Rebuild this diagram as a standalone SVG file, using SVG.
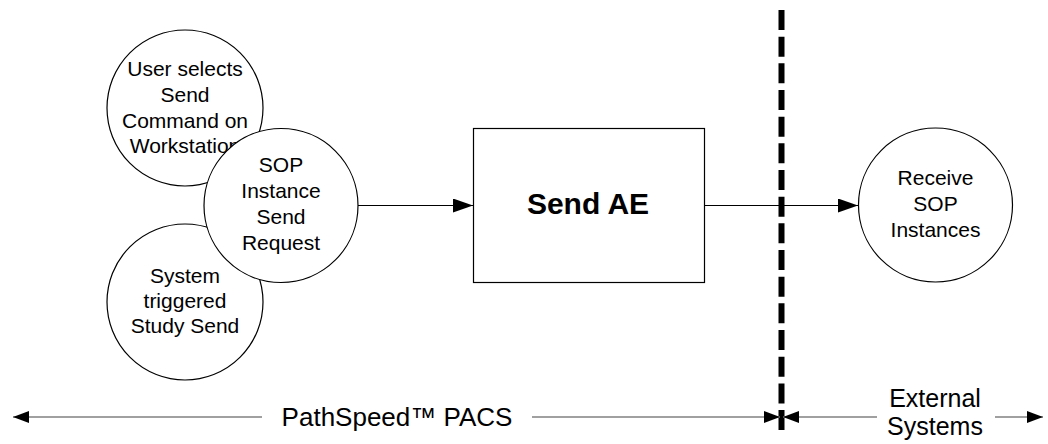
<svg xmlns="http://www.w3.org/2000/svg" width="1048" height="444" viewBox="0 0 1048 444">
<style>
.node{fill:#fff;stroke:#000;stroke-width:1.2}
.t{font-family:"Liberation Sans",Arial,sans-serif;font-size:21px;fill:#000;text-anchor:middle}
.tb{font-family:"Liberation Sans",Arial,sans-serif;font-size:30px;font-weight:bold;fill:#000;text-anchor:middle}
.tl{font-family:"Liberation Sans",Arial,sans-serif;font-size:26px;fill:#000;text-anchor:middle}
.te{font-family:"Liberation Sans",Arial,sans-serif;font-size:25px;fill:#000;text-anchor:middle}
.conn{stroke:#000;stroke-width:1.2;fill:none}
.span{stroke:#808080;stroke-width:1.5;fill:none}
</style>
<defs>
<marker id="ah" markerUnits="userSpaceOnUse" markerWidth="20" markerHeight="14" refX="20" refY="7" orient="auto">
<path d="M0,0 L20,7 L0,14 Z" fill="#000"/>
</marker>
<marker id="ahs" markerUnits="userSpaceOnUse" markerWidth="16" markerHeight="12" refX="16" refY="6" orient="auto">
<path d="M0,0 L16,6 L0,12 Z" fill="#000"/>
</marker>
</defs>
<rect width="1048" height="444" fill="#fff"/>
<g id="connectors">
<line class="conn" x1="358" y1="205.5" x2="473" y2="205.5" marker-end="url(#ah)"/>
<line class="conn" x1="704" y1="205.5" x2="858" y2="205.5" marker-end="url(#ah)"/>
</g>
<g id="boundary">
<line x1="781.5" y1="10" x2="781.5" y2="430" stroke="#000" stroke-width="6" stroke-dasharray="20 6.67"/>
</g>
<g id="span-pacs">
<line class="span" x1="262" y1="417" x2="13" y2="417" marker-end="url(#ahs)"/>
<line class="span" x1="532" y1="417" x2="780" y2="417" marker-end="url(#ahs)"/>
<text class="tl" x="397" y="426">PathSpeed™ PACS</text>
</g>
<g id="span-external">
<line class="span" x1="877" y1="417" x2="783" y2="417" marker-end="url(#ahs)"/>
<line class="span" x1="995" y1="417" x2="1043" y2="417" marker-end="url(#ahs)"/>
<text class="te" x="935" y="407">External</text>
<text class="te" x="935" y="435">Systems</text>
</g>
<g id="user-selects">
<circle class="node" cx="185" cy="108" r="78"/>
<text class="t" x="185" y="76">User selects</text>
<text class="t" x="185" y="102">Send</text>
<text class="t" x="185" y="128">Command on</text>
<text class="t" x="185" y="153">Workstation</text>
</g>
<g id="system-triggered">
<circle class="node" cx="185" cy="302" r="78"/>
<text class="t" x="185" y="283">System</text>
<text class="t" x="185" y="308">triggered</text>
<text class="t" x="185" y="333">Study Send</text>
</g>
<g id="sop-request">
<circle class="node" cx="281" cy="205.5" r="77"/>
<text class="t" x="281" y="172">SOP</text>
<text class="t" x="281" y="198">Instance</text>
<text class="t" x="281" y="224">Send</text>
<text class="t" x="281" y="250">Request</text>
</g>
<g id="send-ae">
<rect class="node" x="473.5" y="128.5" width="231" height="154"/>
<text class="tb" x="588" y="214">Send AE</text>
</g>
<g id="receive-sop">
<circle class="node" cx="935.5" cy="205" r="77"/>
<text class="t" x="935.5" y="185">Receive</text>
<text class="t" x="935.5" y="211">SOP</text>
<text class="t" x="935.5" y="237">Instances</text>
</g>
</svg>
